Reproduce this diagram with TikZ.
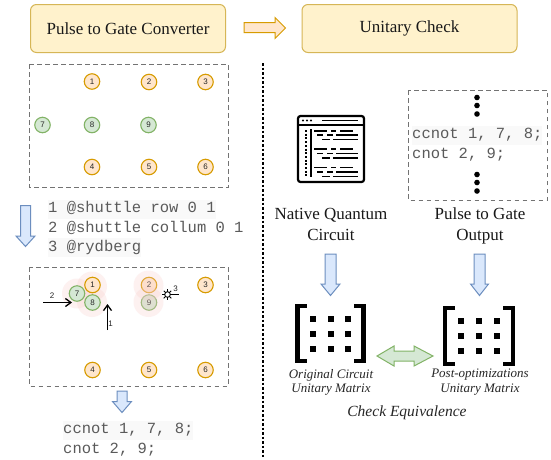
\documentclass[tikz,border=0pt]{standalone}
\usepackage{fontspec}
\setmainfont{Liberation Serif}
\setsansfont{Liberation Sans}
\setmonofont{Liberation Mono}
\usetikzlibrary{arrows.meta}
\definecolor{ynfill}{HTML}{FFF2CC}\definecolor{ynline}{HTML}{D6B656}
\definecolor{orfill}{HTML}{FFE6CC}\definecolor{orline}{HTML}{D79B00}
\definecolor{grfill}{HTML}{D5E8D4}\definecolor{grline}{HTML}{82B366}
\definecolor{blfill}{HTML}{DAE8FC}\definecolor{blline}{HTML}{6C8EBF}
\definecolor{halo}{HTML}{F8CECC}\definecolor{codebg}{HTML}{F9F9F9}\definecolor{codefg}{HTML}{5A5A5A}
\tikzset{
 titlebox/.style={draw=ynline,fill=ynfill,line width=1pt,rounded corners=6pt,inner sep=0pt,font=\fontsize{17}{17}\selectfont,text=black!90},
 dashbox/.style={draw=black!55,dash pattern=on 4.5pt off 3.5pt,line width=1pt},
 qubitO/.style={circle,draw=orline,fill=orfill,line width=1.1pt,inner sep=0pt,minimum size=15.5pt,font=\sffamily\fontsize{8}{8}\selectfont,text=black!85},
 qubitG/.style={circle,draw=grline,fill=grfill,line width=1.1pt,inner sep=0pt,minimum size=15.5pt,font=\sffamily\fontsize{8}{8}\selectfont,text=black!85},
 halospot/.style={circle,fill=halo,fill opacity=.28,draw=none,minimum size=30pt,inner sep=0pt},
 codeline/.style={anchor=west,inner sep=0pt,font=\ttfamily\fontsize{15.5}{16}\selectfont,text=codefg,text height=10pt,text depth=3pt},
 codeshade/.style={codeline,fill=codebg,inner ysep=3pt},
 bigarrow/.style={line width=1pt,line join=miter},
 blueblock/.style={bigarrow,draw=blline,fill=blfill},
 serifmid/.style={font=\fontsize{17}{17}\selectfont,text=black!90,inner sep=0pt,text height=11pt,text depth=3.5pt},
 capt/.style={font=\itshape\fontsize{13}{13}\selectfont,text=black!85,inner sep=0pt},
 smalllabel/.style={font=\sffamily\fontsize{8}{8}\selectfont,inner sep=0pt,text=black!85},
 movearrow/.style={line width=1.3pt,-{Straight Barb[length=5.5pt,width=8pt]},black},
 bracketline/.style={line width=4.6pt,line cap=butt,line join=miter,black},
 iconline/.style={line width=1.6pt,black},
}
\newcommand{\blockdown}[6]{% xc top neck tip bodyhalf headhalf
 \draw[blueblock] (#1-#5,#2) -- (#1+#5,#2) -- (#1+#5,#3) -- (#1+#6,#3) -- (#1,#4) -- (#1-#6,#3) -- (#1-#5,#3) -- cycle;}
\newcommand{\mdots}[6]{% squares
 \foreach \mx in {#1,#2,#3}\foreach \my in {#4,#5,#6}
   \fill[black] (\mx-3,\my-3) rectangle (\mx+3,\my+3);}
\newcommand{\iconrows}[1]{%
 \draw[iconline] (314,#1) -- (327,#1) (331,#1) -- (336,#1) (340,#1) -- (353,#1);
 \draw[iconline] (317,#1+4.4) -- (323,#1+4.4) (327,#1+4.4) -- (333,#1+4.4) (336,#1+4.4) -- (358,#1+4.4);
 \draw[iconline] (322,#1+8.8) -- (330,#1+8.8) (333,#1+8.8) -- (358,#1+8.8);}
\begin{document}
\begin{tikzpicture}[x=1pt,y=-1pt]
\useasboundingbox[fill=white] (0,0) rectangle (551,459);
% title boxes
\node[titlebox,minimum width=195pt,minimum height=48pt] (conv) at (128,28.5) {Pulse to Gate Converter};
\node[titlebox,minimum width=215pt,minimum height=48pt] (unit) at (409.5,28.5) {Unitary Check};
\draw[bigarrow,draw=orline,fill=orfill] (244,22.5) -- (275,22.5) -- (275,17.5) -- (285.5,28) -- (275,38.5) -- (275,32.5) -- (244,32.5) -- cycle;
% top qubit grid
\draw[dashbox] (29.5,64) rectangle (228,187.5);
\foreach \n/\x/\y in {1/92/81.5,2/149/82,3/205.5/82,4/92/167,5/149/167,6/205.5/167}
  \node[qubitO] (a\n) at (\x,\y) {\n};
\foreach \n/\x/\y in {7/42.5/125,8/92/125,9/148.5/125}
  \node[qubitG] (a\n) at (\x,\y) {\n};
% shuttle code
\blockdown{25.5}{205.5}{236}{246.5}{5}{9.5}
\node[codeshade] (s1) at (48,209) {1 @shuttle row 0 1};
\node[codeline] (s2) at (48,229) {2 @shuttle collum 0 1};
\node[codeshade] (s3) at (48,247.5) {3 @rydberg};
% lower qubit grid
\draw[dashbox] (29.5,267) rectangle (228,386);
\foreach \n/\x/\y in {h1/92/286.5,h7/77/293.5,h8/92/302}
  \node[halospot] (\n) at (\x,\y) {};
\foreach \n/\x/\y in {1/92.5/285,2/149/285,3/205.5/285,4/92.5/370,5/149/370,6/205.5/370}
  \node[qubitO] (b\n) at (\x,\y) {\n};
\foreach \n/\x/\y in {7/77/293.5,8/92.5/302.5,9/149/302.5}
  \node[qubitG] (b\n) at (\x,\y) {\n};
\foreach \n/\x/\y in {h2/148.5/285.5,h9/148.5/302}
  \node[halospot] (\n) at (\x,\y) {};
\coordinate (m2s) at (43,302.5);
\coordinate (m2e) at (72,302.5);
\coordinate (m1s) at (107.5,330);
\coordinate (m1e) at (107.5,304);
\draw[movearrow] (m2s) -- (m2e);
\draw[movearrow] (m1s) -- (m1e);
\node[smalllabel] (l2) at (52,296) {2};
\node[smalllabel] (l1) at (110.5,323.5) {1};
\node[smalllabel] (l3) at (175.5,289) {3};
\coordinate (sun) at (167.5,294.5);
\coordinate (sune) at (179,294.5);
\draw[black,line width=.9pt] (sun) -- (sune);
\fill[white] (sun) circle (2.8);
\draw[black,line width=.9pt] (sun) circle (2.8);
\foreach \a in {0,45,...,315}
  \draw[black,line width=.8pt] (sun) ++(\a:2.8) -- ++(\a:2.5);
% output
\blockdown{122}{391}{401.5}{412.5}{5}{9.5}
\node[codeshade] (o1) at (63,430) {ccnot 1, 7, 8;};
\node[codeline] (o2) at (63,450) {cnot 2, 9;};
% divider
\coordinate (divt) at (263,63);
\coordinate (divb) at (263,458);
\draw[black,line width=2.6pt,dash pattern=on 2.6pt off 1.9pt] (divt) -- (divb);
% icon
\draw[black,line width=2.2pt,rounded corners=2.5pt] (298,116) rectangle (364,182);
\draw[black,line width=1.8pt] (298,125) -- (364,125);
\foreach \x in {303,307,311} \fill[black] (\x,120.5) circle (1.1);
\draw[black,line width=1.7pt] (322,120.5) -- (358,120.5);
\draw[black,line width=1.7pt] (310.7,129) -- (310.7,177);
\draw[black,line width=2.4pt,dash pattern=on 2pt off 1.7pt] (305.7,130) -- (305.7,177);
\iconrows{130.7}\iconrows{149}\iconrows{167.5}
% right dashed box
\draw[dashbox] (408.5,90) rectangle (547.5,200);
\foreach \y in {97.5,105.5,114,174.5,182.5,191} \fill[black] (477,\y) circle (2.8);
\node[codeshade] (p1) at (412,135) {ccnot 1, 7, 8;};
\node[codeline] (p2) at (412,155) {cnot 2, 9;};
% labels
\node[serifmid] (nq1) at (331,215.5) {Native Quantum};
\node[serifmid] (nq2) at (331,237) {Circuit};
\node[serifmid] (pg1) at (480,215.5) {Pulse to Gate};
\node[serifmid] (pg2) at (480,237) {Output};
\blockdown{330.5}{254}{284}{295.5}{5.5}{9.5}
\blockdown{479.5}{254}{284}{295.5}{5.5}{9}
% matrices
\draw[bracketline] (306.7,306) -- (297.3,306) -- (297.3,361) -- (306.7,361);
\draw[bracketline] (354,306) -- (363.4,306) -- (363.4,361) -- (354,361);
\mdots{312.7}{330.7}{348.3}{319}{333.7}{348.7}
\draw[bracketline] (455,308) -- (445,308) -- (445,364) -- (455,364);
\draw[bracketline] (503,308) -- (513,308) -- (513,364) -- (503,364);
\mdots{461}{479}{497}{320.7}{335.7}{350.7}
\draw[bigarrow,draw=grline,fill=grfill] (377,356) -- (394,346) -- (394,351) -- (414,351) -- (414,346) -- (433,356) -- (414,366) -- (414,361) -- (394,361) -- (394,366) -- cycle;
\node[capt] (c1) at (331,375) {Original Circuit};
\node[capt] (c2) at (331,390) {Unitary Matrix};
\node[capt] (c3) at (480,375) {Post-optimizations};
\node[capt] (c4) at (480,390) {Unitary Matrix};
\node[font=\itshape\fontsize{15.5}{15.5}\selectfont,text=black!85,inner sep=0pt] (eq) at (407,413) {Check Equivalence};
\end{tikzpicture}
\end{document}
